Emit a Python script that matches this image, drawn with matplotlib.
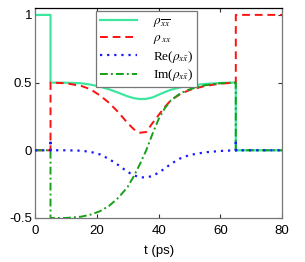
import matplotlib
matplotlib.use("Agg")
import matplotlib.pyplot as plt

# time grid for the interval between the two switching events
t_mid = [5, 10, 15, 18, 21, 24, 27, 30, 32, 34, 36, 38, 40, 42, 44, 47, 50, 55, 60, 65]

rho_xbxb_mid = [0.5, 0.499, 0.495, 0.485, 0.47, 0.45, 0.425, 0.398, 0.385, 0.378, 0.38, 0.39,
                0.41, 0.43, 0.447, 0.465, 0.478, 0.49, 0.497, 0.5]
rho_xx_mid = [0.5, 0.495, 0.475, 0.45, 0.405, 0.35, 0.28, 0.2, 0.155, 0.13, 0.135, 0.2,
              0.26, 0.32, 0.37, 0.415, 0.445, 0.475, 0.492, 0.5]
re_mid = [0.0, 0.0, -0.003, -0.012, -0.03, -0.065, -0.11, -0.16, -0.185, -0.2, -0.2, -0.19,
          -0.165, -0.135, -0.1, -0.06, -0.035, -0.015, -0.005, 0.0]
im_mid = [-0.5, -0.5, -0.49, -0.475, -0.45, -0.41, -0.35, -0.27, -0.19, -0.1, 0.0, 0.12,
          0.23, 0.31, 0.37, 0.42, 0.45, 0.48, 0.495, 0.5]

# values before t=5 and after t=65
rho_xbxb_pre, rho_xbxb_post = 1.0, 0.0
rho_xx_pre, rho_xx_post = 0.0, 1.0
re_pre, re_post, re_spike = 0.0, 0.0, 0.08
im_pre, im_post = 0.0, 0.0

t_start, t_end = 0, 80

labels = [r'$\rho_{\overline{xx}}$', r'$\rho_{\,xx}$',
          r'Re($\rho_{x\bar{x}}$)', r'Im($\rho_{x\bar{x}}$)']

xticks = [0, 20, 40, 60, 80]
yticks = [-0.5, 0, 0.5, 1]
ytick_labels = ['-0.5', '0', '0.5', '1']

plt.rcParams['font.family'] = ['Liberation Sans', 'DejaVu Sans']
plt.rcParams['mathtext.fontset'] = 'stix'

fig = plt.figure(figsize=(3.05, 2.62), dpi=100)
ax = fig.add_axes([0.115, 0.168, 0.81, 0.801])

t0 = t_mid[0]
t1 = t_mid[-1]

x = [t_start, t0] + t_mid + [t1, t_end]
ax.plot(x, [rho_xbxb_pre] * 2 + rho_xbxb_mid + [rho_xbxb_post] * 2,
        color='#3ee6a0', lw=1.6, ls='-', label=labels[0], zorder=2)
ax.plot(x, [rho_xx_pre] * 2 + rho_xx_mid + [rho_xx_post] * 2,
        color='#ff1010', lw=1.4, ls=(0, (4, 2.5)), label=labels[1], zorder=3)
xb = [t_start, t0, t0] + t_mid + [t1, t1, t_end]
ax.plot(xb, [re_pre, re_pre, re_spike] + re_mid + [re_spike, re_post, re_post],
        color='#1a1aff', lw=1.6, ls=(0, (1, 2.2)), label=labels[2], zorder=4)
ax.plot(x, [im_pre] * 2 + im_mid + [im_post] * 2,
        color='#18a018', lw=1.4, ls=(0, (4, 1.6, 1, 1.6)), label=labels[3], zorder=3)

ax.set_xlim(0, 80)
ax.set_ylim(-0.5, 1.05)
ax.set_xticks(xticks)
ax.set_xticklabels([str(v) for v in xticks])
ax.set_yticks(yticks)
ax.set_yticklabels(ytick_labels)
ax.tick_params(direction='in', top=True, right=True, length=3, width=0.8,
               labelsize=9.5, colors='#333333', labelcolor='black')
ax.tick_params(axis='x', pad=5)
ax.tick_params(axis='y', pad=2)
ax.set_xlabel('t (ps)', fontsize=9.5, labelpad=6)

for s in ['left', 'right', 'bottom']:
    ax.spines[s].set_color('#777777')
ax.spines['top'].set_color('black')
for s in ax.spines.values():
    s.set_linewidth(0.9)

leg = ax.legend(loc='upper left', bbox_to_anchor=(0.247, 0.986), borderaxespad=0,
                prop={'family': 'Liberation Serif', 'size': 9.5},
                handlelength=2.8, handletextpad=1.2, labelspacing=0.2,
                borderpad=0.3, fancybox=False, framealpha=1, edgecolor='#777777')
leg.get_frame().set_linewidth(0.9)

fig.savefig('out.png', dpi=100)
